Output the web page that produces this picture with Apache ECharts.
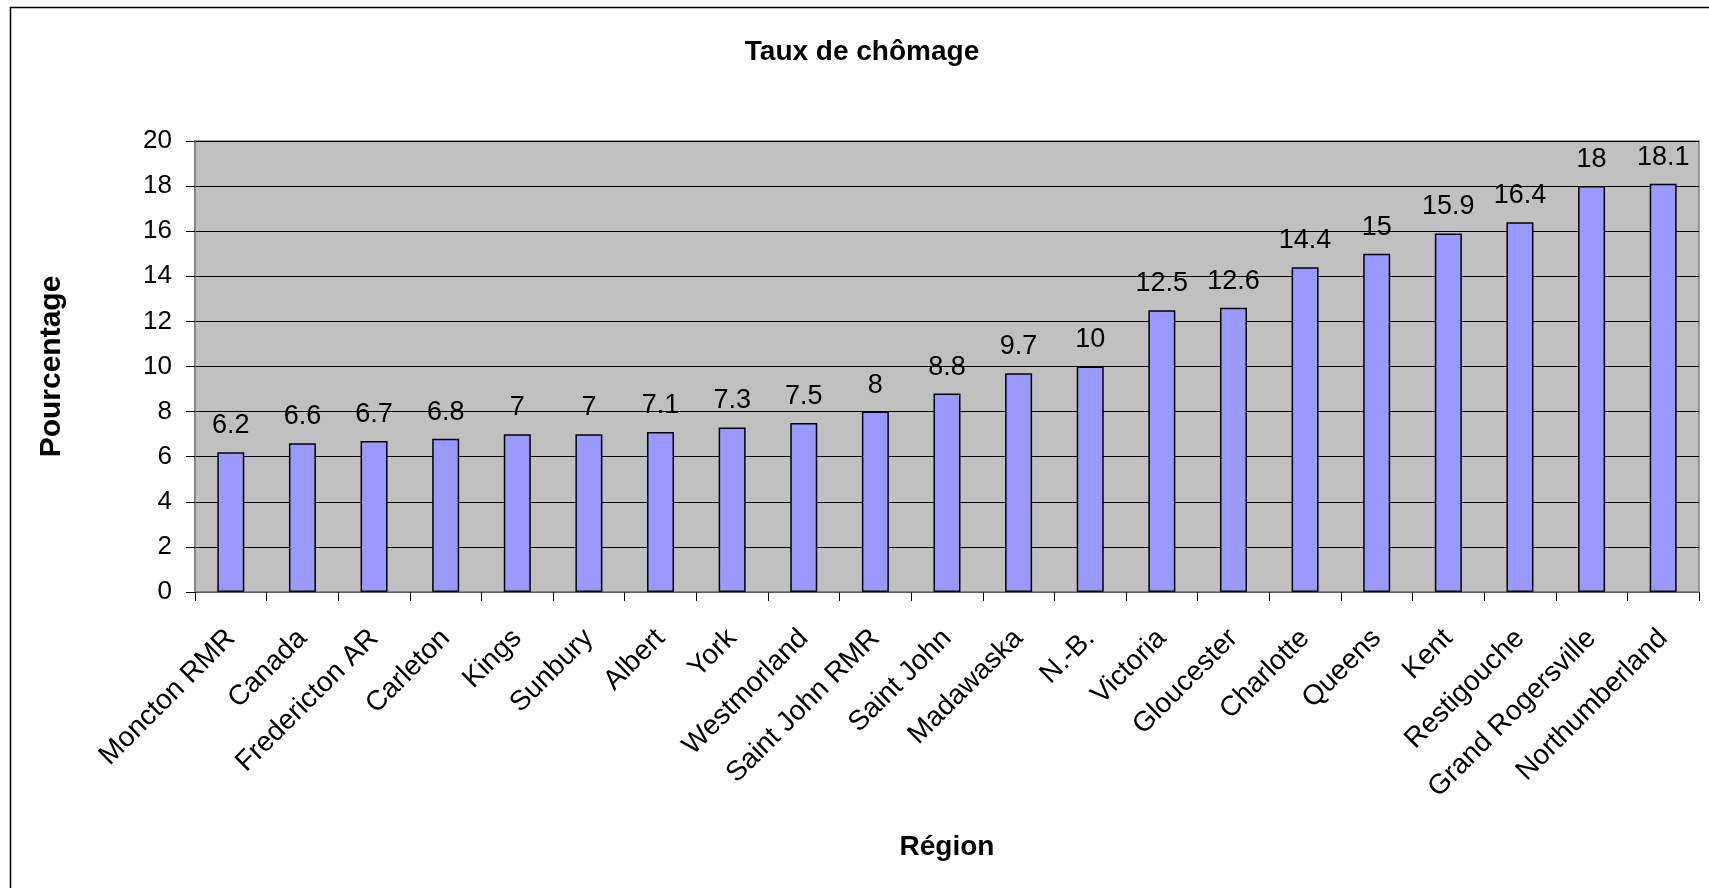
<!DOCTYPE html>
<html>
<head>
<meta charset="utf-8">
<script src="https://cdn.jsdelivr.net/npm/echarts@6/dist/echarts.min.js"></script>
<style>
html,body{margin:0;padding:0;background:#fff;}
#chart{width:1709px;height:888px;}
</style>
</head>
<body>
<div id="chart"></div>
<script>
var categories = ["Moncton RMR","Canada","Fredericton AR","Carleton","Kings","Sunbury","Albert","York","Westmorland","Saint John RMR","Saint John","Madawaska","N.-B.","Victoria","Gloucester","Charlotte","Queens","Kent","Restigouche","Grand Rogersville","Northumberland"];
var values = [6.2,6.6,6.7,6.8,7,7,7.1,7.3,7.5,8,8.8,9.7,10,12.5,12.6,14.4,15,15.9,16.4,18,18.1];
var yTicks = [0,2,4,6,8,10,12,14,16,18,20];

var chart = echarts.init(document.getElementById('chart'));
var FONT = '"Liberation Sans", Arial, sans-serif';
chart.setOption({
  animation: false,
  backgroundColor: '#ffffff',
  textStyle: { fontFamily: FONT },
  graphic: [{
    type: 'rect', left: 8, top: 5, silent: true,
    shape: { width: 1800, height: 1000 },
    style: { fill: 'none', stroke: '#000', lineWidth: 1.5 }
  }],
  title: {
    text: 'Taux de chômage',
    left: 857, top: 33, textAlign: 'center',
    textStyle: { fontFamily: FONT, fontSize: 28, fontWeight: 'bold', color: '#000' }
  },
  grid: {
    left: 195, right: 10, top: 141, bottom: 296,
    show: true, backgroundColor: '#C0C0C0', borderColor: '#808080', borderWidth: 1.5
  },
  xAxis: {
    type: 'category',
    data: categories,
    name: 'Région',
    nameLocation: 'middle',
    nameGap: 241,
    nameTextStyle: { fontFamily: FONT, fontSize: 28, fontWeight: 'bold', color: '#000' },
    axisLine: { lineStyle: { color: '#808080', width: 1.5 } },
    axisTick: { show: true, length: 9, lineStyle: { color: '#000', width: 1 } },
    axisLabel: {
      interval: 0, rotate: 45, margin: 42,
      align: 'right', verticalAlign: 'middle',
      fontFamily: FONT, fontSize: 28, color: '#000'
    }
  },
  yAxis: {
    type: 'value',
    min: 0, max: 20, interval: 2,
    name: 'Pourcentage',
    nameLocation: 'middle',
    nameGap: 128,
    nameRotate: 90,
    nameTextStyle: { fontFamily: FONT, fontSize: 30, fontWeight: 'bold', color: '#000' },
    axisLine: { show: true, lineStyle: { color: '#808080', width: 1.5 } },
    axisTick: { show: true, length: 9, lineStyle: { color: '#000', width: 1 } },
    axisLabel: {
      margin: 23, fontFamily: FONT, fontSize: 26, color: '#000',
      formatter: function (v) { return yTicks.indexOf(v) >= 0 ? String(v) : ''; }
    },
    splitLine: { show: true, lineStyle: { color: '#000', width: 1 } }
  },
  series: [{
    type: 'bar',
    data: values,
    barWidth: 27,
    itemStyle: { color: '#9999FF', borderColor: '#000', borderWidth: 1.5 },
    label: {
      show: true, position: 'top', distance: 13,
      fontFamily: FONT, fontSize: 27, color: '#000'
    }
  }]
});
</script>
</body>
</html>
